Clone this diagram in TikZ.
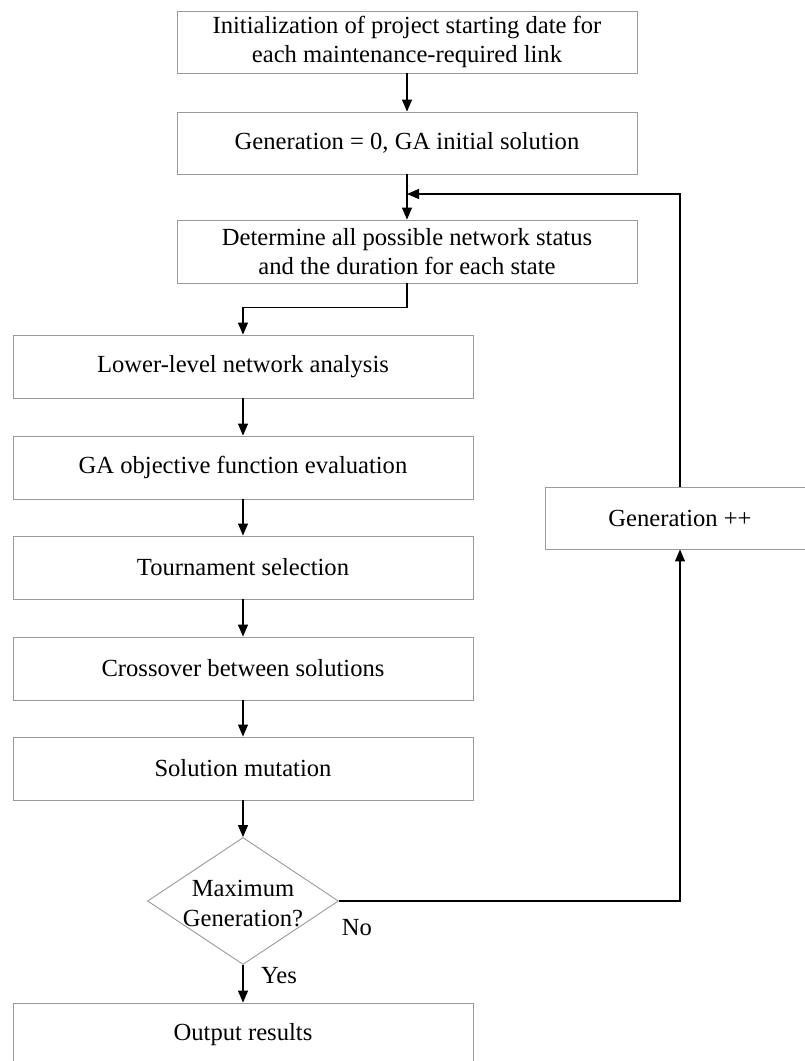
\documentclass[tikz,border=0pt]{standalone}
\usepackage{fontspec}
\setmainfont{Liberation Serif}
\usetikzlibrary{shapes.geometric,arrows.meta}
\definecolor{boxgray}{HTML}{9A9A9A}
\newcommand{\fsz}{\fontsize{24.6}{28.5}\selectfont}
\begin{document}
\begin{tikzpicture}[x=1pt,y=1pt,
  box/.style={draw=boxgray, line width=0.9pt, minimum width=460pt, minimum height=62pt, inner sep=0pt, align=center, font=\fsz},
  decision/.style={draw=boxgray, line width=0.9pt, diamond, minimum width=191pt, minimum height=127pt, inner sep=0pt},
  txt/.style={inner sep=0pt, align=center, font=\fsz},
  arr/.style={draw=black, line width=1.2pt, -{Triangle[length=12pt,width=10pt]}},
  ln/.style={draw=black, line width=1.2pt}]
\useasboundingbox (0,0) rectangle (805,-1061);
\clip (0,0) rectangle (805,-1061);
\fill[white] (0,0) rectangle (805,-1061);
% top column
\node[box] (init) at (407,-42) {Initialization of project starting date for\\each maintenance-required link};
\node[box] (gen) at (407,-143) {Generation = 0, GA initial solution};
\node[box, minimum height=63pt] (det) at (407,-251.5) {Determine all possible network status\\and the duration for each state};
% left column
\node[box, minimum height=63pt] (low) at (243,-366.5) {Lower-level network analysis};
\node[box, minimum height=63pt] (obj) at (243,-467.5) {GA objective function evaluation};
\node[box, minimum height=63pt] (tour) at (243,-567.5) {Tournament selection};
\node[box, minimum height=63pt] (cross) at (243,-668.5) {Crossover between solutions};
\node[box, minimum height=63pt] (mut) at (243,-768.5) {Solution mutation};
\node[decision] (dec) at (243,-901) {};
\node[txt, font=\fontsize{24.6}{30}\selectfont] (dectxt) at (243,-904) {Maximum\\Generation?};
\node[box, minimum height=63pt] (out) at (243,-1034.5) {Output results};
% right
\node[box, minimum width=270pt] (genpp) at (680,-518) {Generation ++};
% labels
\node[txt] (no) at (357,-928) {No};
\node[txt] (yes) at (279,-976) {Yes};
% connectors
\coordinate (fb) at (407,-194);
\draw[arr] (init.south) -- (gen.north);
\draw[arr] (gen.south) -- (det.north);
\draw[arr] (genpp.north) |- (fb);
\draw[arr] (det.south) -- ++(0,-24) -| (low.north);
\draw[arr] (low.south) -- (obj.north);
\draw[arr] (obj.south) -- (tour.north);
\draw[arr] (tour.south) -- (cross.north);
\draw[arr] (cross.south) -- (mut.north);
\draw[arr] (mut.south) -- (dec.north);
\draw[arr] (dec.east) -| (genpp.south);
\draw[arr] (dec.south) -- (out.north);
\end{tikzpicture}
\end{document}
